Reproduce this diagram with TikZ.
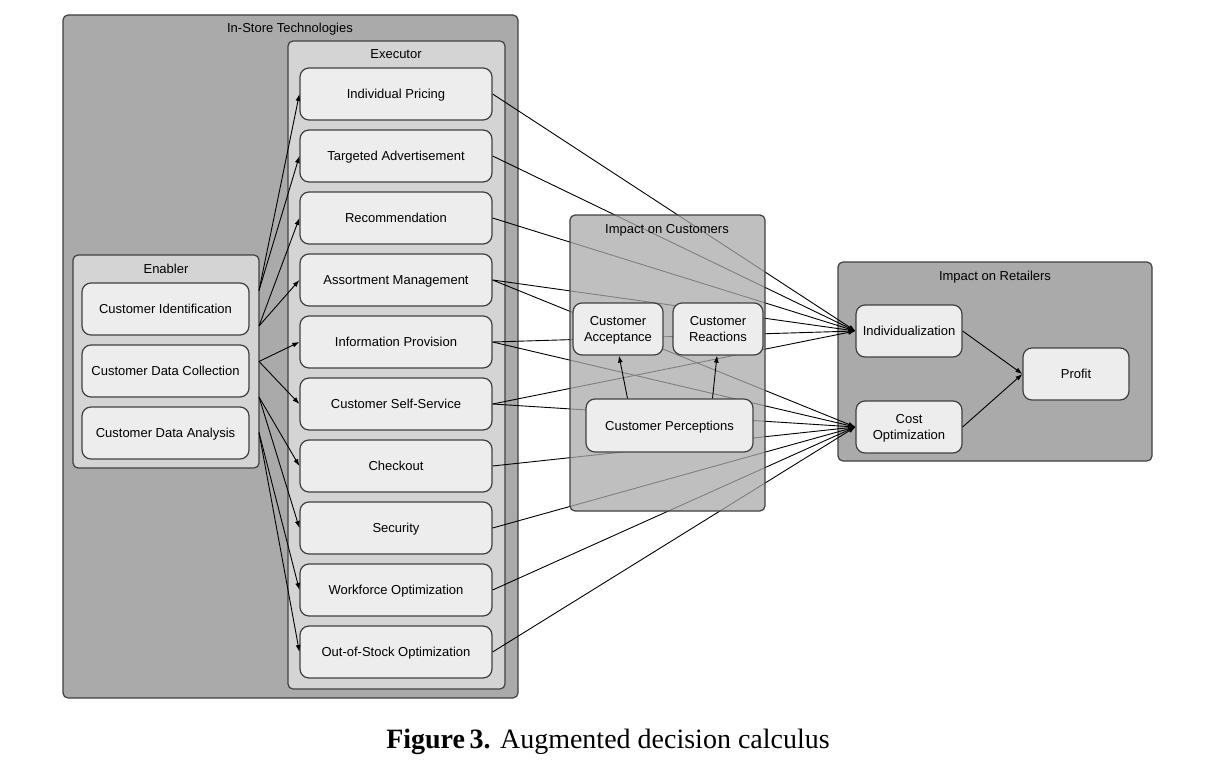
\documentclass[tikz,border=0pt]{standalone}
\usepackage{fontspec}
\setmainfont{Liberation Sans}
\newfontfamily\captionfont{Liberation Serif}
\usetikzlibrary{arrows.meta}

\definecolor{boxline}{gray}{0.25}
\definecolor{darkfill}{gray}{0.665}
\definecolor{midfill}{gray}{0.83}
\definecolor{lightfill}{gray}{0.93}

\tikzset{
  group/.style={draw=boxline, line width=1.2pt, fill=darkfill, rounded corners=5pt, inner sep=0pt},
  subgroup/.style={group, fill=midfill},
  item/.style={draw=boxline, line width=1.2pt, fill=lightfill, rounded corners=9pt, align=center,
    inner sep=0pt, text depth=0pt, font=\fontsize{13}{16}\selectfont},
  exec/.style={item, minimum width=192pt, minimum height=52pt},
  title/.style={inner sep=0pt, font=\fontsize{13}{16}\selectfont},
  link/.style={line width=0.9pt, -{Latex[length=7pt,width=5pt]}},
}

\begin{document}
\begin{tikzpicture}[x=1pt, y=-1pt]
\useasboundingbox (0,0) rectangle (1219,765);

% in-store technologies
\node[group, minimum width=455pt, minimum height=683pt] (store) at (290.5,356.5){};
\node[title] (storetitle) at (290,29){In-Store Technologies};

\node[subgroup, minimum width=186pt, minimum height=213pt] (enabler) at (166,361.5){};
\node[title] (enablertitle) at (166,269){Enabler};
\node[item, minimum width=167pt, minimum height=52pt] (ident) at (165.5,309){Customer Identification};
\node[item, minimum width=167pt, minimum height=52pt] (collect) at (165.5,371){Customer Data Collection};
\node[item, minimum width=167pt, minimum height=52pt] (analysis) at (165.5,433){Customer Data Analysis};

\node[subgroup, minimum width=217pt, minimum height=648pt] (executor) at (396.5,365){};
\node[title] (executortitle) at (396,54){Executor};
\node[exec] (pricing) at (396,94){Individual Pricing};
\node[exec] (advert) at (396,156){Targeted Advertisement};
\node[exec] (recomm) at (396,218){Recommendation};
\node[exec] (assort) at (396,280){Assortment Management};
\node[exec] (info) at (396,342){Information Provision};
\node[exec] (selfserv) at (396,404){Customer Self-Service};
\node[exec] (checkout) at (396,466){Checkout};
\node[exec] (security) at (396,528){Security};
\node[exec] (workforce) at (396,590){Workforce Optimization};
\node[exec] (stock) at (396,652){Out-of-Stock Optimization};

% impact on retailers
\node[group, minimum width=314pt, minimum height=199pt] (retailers) at (995,361.5){};
\node[title] (retailerstitle) at (995,277){Impact on Retailers};
\node[item, minimum width=106pt, minimum height=52pt] (indiv) at (909,331){Individualization};
\node[item, minimum width=106pt, minimum height=52pt] (cost) at (909,427){Cost\\Optimization};
\node[item, minimum width=106pt, minimum height=52pt] (profit) at (1076,374){Profit};

% enabler to executor
\coordinate (en1) at (259,290.5);
\coordinate (en2) at (259,326);
\coordinate (en3) at (259,361.5);
\coordinate (en4) at (259,397);
\coordinate (en5) at (259,432.5);
\draw[link] (en1)--(pricing.west);
\draw[link] (en1)--(advert.west);
\draw[link] (en2)--(recomm.west);
\draw[link] (en2)--(assort.west);
\draw[link] (en3)--(info.west);
\draw[link] (en3)--(selfserv.west);
\draw[link] (en4)--(checkout.west);
\draw[link] (en4)--(security.west);
\draw[link] (en5)--(workforce.west);
\draw[link] (en5)--(stock.west);

% executor to retailers
\draw[link] (pricing.east)--(indiv.west);
\draw[link] (advert.east)--(indiv.west);
\draw[link] (recomm.east)--(indiv.west);
\draw[link] (assort.east)--(indiv.west);
\draw[link] (info.east)--(indiv.west);
\draw[link] (selfserv.east)--(indiv.west);
\draw[link] (assort.east)--(cost.west);
\draw[link] (info.east)--(cost.west);
\draw[link] (selfserv.east)--(cost.west);
\draw[link] (checkout.east)--(cost.west);
\draw[link] (security.east)--(cost.west);
\draw[link] (workforce.east)--(cost.west);
\draw[link] (stock.east)--(cost.west);

\draw[link] (indiv.east)--(profit.west);
\draw[link] (cost.east)--(profit.west);

% impact on customers
\node[group, fill opacity=0.75, minimum width=195pt, minimum height=296pt] (customers) at (667.5,363){};
\node[title] (customerstitle) at (667,230){Impact on Customers};
\node[item, minimum width=90pt, minimum height=52pt] (accept) at (618,329){Customer\\Acceptance};
\node[item, minimum width=90pt, minimum height=52pt] (react) at (718,329){Customer\\Reactions};
\node[item, minimum width=167pt, minimum height=53pt] (percep) at (669.5,425.5){Customer Perceptions};
\draw[link] ([xshift=-42pt]percep.north)--([xshift=1pt]accept.south);
\draw[link] ([xshift=43pt]percep.north)--([xshift=-1pt]react.south);

\node[anchor=base, inner sep=0pt, font=\captionfont\fontsize{28}{32}\selectfont] (caption) at (608,748)
  {\textbf{Figure\,3.} Augmented decision calculus};
\end{tikzpicture}
\end{document}
